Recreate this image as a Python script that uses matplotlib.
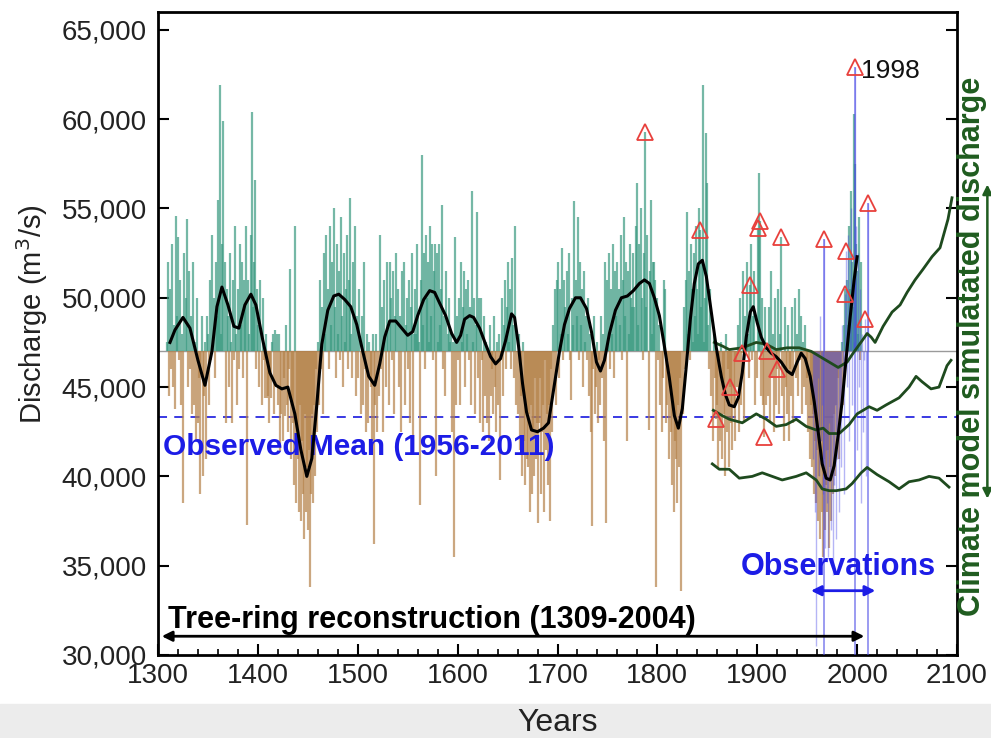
import matplotlib
matplotlib.use('Agg')
import matplotlib.pyplot as plt
import numpy as np
from matplotlib.ticker import FuncFormatter, MultipleLocator
from matplotlib.patches import Rectangle

plt.rcParams['font.family'] = ['Liberation Sans', 'DejaVu Sans']

# Tree-ring reconstruction, annual discharge (thousand m3/s), 1309-2004
recon_start = 1309
recon_k = [
    47.5,
    52.0, 44.5, 50.5, 46.0, 53.0, 45.0, 48.5, 43.8, 54.6, 49.0,  # 1310
    53.4, 46.5, 51.0, 44.0, 48.0, 38.5, 52.5, 47.0, 50.0, 54.4,  # 1320
    45.0, 51.5, 46.0, 49.0, 43.5, 52.0, 44.0, 47.5, 42.0, 50.0,  # 1330
    43.0, 45.5, 39.0, 46.0, 49.0, 40.0, 44.5, 47.5, 41.0, 49.0,  # 1340
    48.0, 44.0, 51.0, 46.5, 53.5, 47.0, 50.0, 45.5, 52.0, 49.0,  # 1350
    55.5, 50.0, 61.9, 48.0, 53.0, 59.9, 47.0, 52.0, 43.0, 50.5,  # 1360
    49.0, 45.0, 52.5, 47.5, 43.0, 51.0, 46.5, 54.0, 48.0, 44.0,  # 1370
    50.5, 46.0, 53.0, 48.5, 52.0, 45.5, 51.0, 49.5, 54.0, 37.3,  # 1380
    51.0, 48.0, 47.0, 53.5, 60.4, 49.5, 52.0, 56.6, 46.0, 50.5,  # 1390
    48.5, 45.0, 51.0, 47.0, 44.0, 50.0, 46.5, 44.4, 48.0, 44.4,  # 1400
    44.5, 43.0, 46.0, 44.4, 47.5, 48.0, 43.5, 48.2, 45.0, 48.0,  # 1410
    44.0, 48.0, 41.4, 43.5, 47.0, 42.0, 45.5, 43.4, 48.5, 44.0,  # 1420
    42.5, 46.0, 51.6, 41.0, 44.0, 43.0, 39.5, 54.0, 38.5, 42.5,  # 1430
    41.0, 38.0, 44.0, 37.5, 42.0, 39.0, 36.5, 43.5, 38.0, 40.5,  # 1440
    37.0, 41.5, 33.8, 39.0, 43.5, 38.5, 44.0, 40.0, 46.0, 42.5,  # 1450
    47.5, 44.0, 51.0, 46.0, 49.5, 43.5, 52.5, 48.0, 53.5, 47.0,  # 1460
    50.5, 46.0, 54.0, 48.5, 52.0, 47.0, 55.0, 49.5, 45.5, 53.0,  # 1470
    48.0, 51.5, 46.5, 54.5, 49.0, 45.0, 52.5, 47.5, 50.5, 53.5,  # 1480
    46.0, 51.0, 55.6, 48.0, 45.5, 52.0, 47.0, 54.0, 44.5, 49.0,  # 1490
    45.5, 50.5, 47.0, 43.5, 49.0, 44.0, 52.0, 46.0, 42.5, 48.0,  # 1500
    43.0, 47.5, 45.5, 45.0, 42.0, 48.0, 36.2, 44.0, 48.0, 42.5,  # 1510
    47.0, 44.5, 53.5, 46.0, 49.5, 42.5, 51.0, 48.0, 45.0, 52.0,  # 1520
    48.5, 44.0, 52.0, 50.0, 46.5, 51.5, 43.5, 49.0, 52.5, 47.0,  # 1530
    50.5, 45.0, 49.0, 42.5, 51.5, 47.0, 52.0, 44.0, 48.5, 50.0,  # 1540
    46.0, 51.0, 43.0, 49.5, 52.5, 41.5, 48.0, 50.5, 48.0, 53.0,  # 1550
    49.0, 47.5, 38.4, 51.0, 58.0, 48.5, 52.5, 46.0, 53.5, 50.0,  # 1560
    52.0, 47.5, 54.0, 49.0, 53.0, 46.5, 51.5, 53.0, 40.0, 52.5,  # 1570
    47.5, 53.0, 48.5, 50.5, 55.2, 46.0, 49.0, 44.5, 51.5, 47.0,  # 1580
    48.0, 50.0, 47.5, 48.0, 42.5, 47.5, 35.5, 53.4, 44.0, 49.0,  # 1590
    46.5, 50.0, 44.0, 52.0, 47.5, 49.5, 51.5, 45.0, 50.5, 48.0,  # 1600
    51.0, 46.5, 49.5, 44.0, 56.0, 47.5, 50.0, 43.5, 48.5, 54.8,  # 1610
    45.5, 50.0, 43.0, 50.0, 46.5, 42.5, 49.0, 44.5, 47.5, 43.0,  # 1620
    47.0, 42.0, 48.5, 44.5, 46.0, 43.5, 49.0, 45.0, 42.5, 47.5,  # 1630
    44.0, 48.0, 39.8, 46.5, 50.0, 44.5, 48.5, 51.0, 46.0, 49.5,  # 1640
    52.0, 47.5, 50.5, 46.0, 52.2, 48.5, 45.5, 54.0, 44.0, 47.0,  # 1650
    43.5, 48.0, 41.5, 44.5, 40.0, 47.5, 42.0, 39.5, 44.0, 41.0,  # 1660
    40.5, 43.5, 38.0, 44.0, 39.0, 42.5, 40.0, 45.5, 41.0, 43.0,  # 1670
    37.4, 43.0, 45.5, 39.0, 42.5, 44.0, 38.0, 46.5, 41.5, 43.5,  # 1680
    39.5, 44.0, 37.5, 46.0, 42.5, 48.5, 45.0, 50.5, 44.0, 51.0,  # 1690
    47.0, 52.0, 45.5, 50.5, 48.0, 52.8, 46.5, 51.0, 49.5, 47.0,  # 1700
    51.5, 48.0, 52.5, 46.5, 44.3, 50.0, 48.5, 55.4, 47.0, 51.0,  # 1710
    49.0, 54.5, 46.5, 52.0, 48.5, 50.5, 45.0, 51.5, 47.5, 49.0,  # 1720
    46.5, 50.0, 44.5, 48.0, 42.5, 37.2, 46.0, 49.0, 43.5, 45.0,  # 1730
    47.5, 43.0, 46.5, 44.0, 49.0, 45.5, 48.0, 42.0, 52.0, 37.4,  # 1740
    51.0, 47.5, 52.5, 46.0, 50.5, 48.0, 53.0, 45.5, 51.5, 49.0,  # 1750
    52.0, 47.0, 50.5, 48.5, 53.5, 46.5, 51.0, 54.5, 49.0, 52.0,  # 1760
    42.0, 51.5, 48.0, 53.0, 50.0, 49.5, 52.5, 49.5, 47.0, 54.0,  # 1770
    56.4, 48.5, 53.0, 47.0, 55.0, 50.0, 46.5, 52.5, 59.3, 49.5,  # 1780
    53.5, 47.0, 42.6, 51.5, 55.5, 48.0, 52.0, 52.0, 51.0, 33.8,  # 1790
    50.0, 46.5, 48.5, 44.0, 47.0, 42.5, 45.5, 51.0, 50.5, 43.0,  # 1800
    44.0, 46.5, 41.0, 45.0, 42.5, 39.5, 44.0, 38.0, 42.0, 41.0,  # 1810
    38.5, 44.0, 40.5, 45.5, 33.6, 47.0, 43.5, 49.5, 46.0, 51.0,  # 1820
    54.8, 48.0, 51.5, 46.5, 53.0, 50.5, 47.5, 52.5, 49.0, 54.0,  # 1830
    50.5, 48.0, 55.0, 53.8, 49.5, 52.0, 61.9, 47.5, 50.0, 59.2,  # 1840
    56.4, 48.5, 46.0, 50.5, 44.5, 47.0, 42.0, 48.0, 45.5, 43.2,  # 1850
    44.0, 40.5, 46.5, 42.0, 47.5, 41.0, 45.0, 43.5, 40.0, 48.0,  # 1860
    42.5, 46.0, 40.5, 45.0, 43.0, 41.5, 47.0, 44.0, 42.0, 46.5,  # 1870
    45.0, 48.5, 42.5, 50.0, 44.0, 46.9, 51.5, 43.0, 49.0, 47.5,  # 1880
    52.0, 48.0, 45.5, 50.7, 53.0, 46.5, 49.0, 51.5, 44.0, 47.0,  # 1890
    45.5, 53.9, 57.0, 54.3, 44.5, 50.0, 44.0, 42.2, 49.5, 44.0,  # 1900
    47.0, 44.5, 49.5, 43.0, 51.5, 45.5, 48.0, 42.5, 50.0, 44.0,  # 1910
    46.0, 50.5, 43.5, 48.0, 53.4, 44.5, 47.0, 42.0, 49.5, 45.0,  # 1920
    43.5, 48.5, 42.0, 46.0, 44.5, 49.5, 43.0, 47.0, 50.0, 45.5,  # 1930
    48.0, 44.5, 50.5, 46.5, 49.0, 43.5, 47.5, 45.0, 48.5, 44.0,  # 1940
    45.5, 42.5, 47.0, 41.0, 44.0, 40.5, 43.5, 39.0, 42.0, 38.5,  # 1950
    41.5, 37.5, 40.0, 36.5, 42.0, 38.0, 35.5, 41.0, 37.0, 39.5,  # 1960
    38.0, 41.5, 36.0, 40.5, 37.5, 42.5, 39.0, 43.5, 40.0, 44.0,  # 1970
    42.5, 45.5, 41.0, 46.0, 43.5, 47.5, 44.0, 48.5, 50.5, 46.5,  # 1980
    51.0, 48.5, 54.0, 50.5, 56.0, 52.0, 49.5, 60.3, 57.5, 53.0,  # 1990
    51.5, 48.0, 54.5, 46.5, 52.0,                                # 2000
]

# Gauge observations (thousand m3/s), 1956-2011
obs_start = 1956
obs_k = [
    41.0, 44.5, 38.0, 30.5, 43.0, 45.5, 40.0, 49.0, 42.0, 44.0,
    39.0, 53.3, 36.0, 41.5, 38.5, 35.5, 43.0, 40.0, 37.0, 42.5,
    34.5, 39.5, 44.0, 36.5, 41.0, 46.0, 38.0, 43.5, 40.5, 48.5,
    44.5, 39.0, 50.2, 52.6, 45.0, 53.5, 42.0, 49.5, 55.0, 44.0,
    51.0, 47.5, 62.9, 54.0, 41.5, 52.5, 45.0, 50.5, 38.5, 48.0,
    42.5, 46.5, 48.8, 40.0, 44.0, 55.3,
]
stem_years = [1967, 1998, 2011]

# Smoothed reconstruction (thousand m3/s)
smooth_years = [1312, 1317, 1325, 1332, 1340, 1347, 1354, 1359, 1364, 1370,
                1376, 1381, 1387, 1393, 1398, 1405, 1412, 1418, 1424, 1430,
                1437, 1443, 1449, 1454, 1459, 1464, 1470, 1476, 1481, 1487,
                1493, 1499, 1505, 1511, 1517, 1522, 1527, 1532, 1538, 1544,
                1550, 1555, 1560, 1566, 1572, 1577, 1582, 1588, 1594, 1599,
                1603, 1607, 1612, 1616, 1622, 1628, 1633, 1638, 1643, 1648,
                1654, 1657, 1661, 1665, 1669, 1674, 1680, 1686, 1691, 1696,
                1702, 1707, 1712, 1718, 1723, 1729, 1734, 1739, 1743, 1747,
                1752, 1758, 1764, 1770, 1776, 1782, 1787, 1792, 1797, 1802,
                1807, 1812, 1817, 1821, 1825, 1829, 1833, 1837, 1841, 1845,
                1849, 1854, 1859, 1864, 1868, 1872, 1877, 1881, 1885, 1889,
                1893, 1896, 1900, 1904, 1909, 1914, 1919, 1924, 1930, 1935,
                1940, 1944, 1948, 1953, 1957, 1961, 1965, 1969, 1973, 1977,
                1981, 1985, 1989, 1993, 1997, 2000]
smooth_k = [47.5, 48.2, 48.9, 48.3, 46.5, 45.1, 47.0, 49.5, 50.6, 49.6,
            48.4, 48.3, 49.6, 50.2, 49.6, 47.6, 45.8, 45.1, 44.9, 45.0,
            43.5, 41.5, 40.0, 41.0, 44.0, 47.4, 49.3, 50.1, 50.2, 49.9,
            49.5, 48.5, 47.0, 45.6, 45.1, 46.3, 47.8, 48.7, 48.7, 48.3,
            47.9, 48.1, 49.0, 49.9, 50.4, 50.3, 49.7, 49.0, 48.0, 47.5,
            47.9, 48.8, 49.0, 48.9, 48.3, 47.4, 46.7, 46.3, 46.6, 47.6,
            49.1, 48.9, 47.3, 45.2, 43.6, 42.6, 42.5, 42.7, 43.0, 44.8,
            47.0, 48.5, 49.4, 50.0, 50.0, 49.4, 48.1, 46.4, 45.9, 46.5,
            48.0, 49.3, 50.0, 50.1, 50.4, 50.8, 51.0, 50.8, 50.0, 49.0,
            47.3, 45.5, 43.4, 42.7, 43.8, 46.2, 48.8, 50.8, 51.9, 52.1,
            51.2, 49.2, 47.2, 45.6, 44.6, 44.0, 43.9, 44.4, 45.8, 47.8,
            49.2, 49.5, 48.6, 47.8, 47.2, 46.9, 46.7, 46.4, 45.9, 45.7,
            46.4, 46.9, 46.6, 45.6, 44.2, 42.5, 40.7, 39.9, 39.8, 40.6,
            42.3, 44.2, 46.6, 48.9, 51.0, 52.3]

# Climate model simulated discharge (thousand m3/s)
model_hi_years = [1857, 1865, 1872, 1885, 1899, 1909, 1919, 1930, 1942, 1954,
                  1963, 1972, 1981, 1990, 1996, 2005, 2010, 2014, 2018, 2026,
                  2035, 2043, 2050, 2058, 2066, 2075, 2083, 2091, 2095]
model_hi_k = [47.5, 47.3, 47.1, 47.2, 47.5, 47.4, 47.1, 47.2, 47.2, 47.0,
              46.7, 46.4, 46.1, 46.4, 46.9, 47.6, 48.0, 47.8, 47.5, 48.4,
              49.2, 49.6, 50.3, 51.0, 51.6, 52.3, 52.8, 54.4, 55.6]
model_mid_years = [1856, 1865, 1872, 1885, 1899, 1909, 1919, 1929, 1939, 1949,
                   1959, 1966, 1972, 1982, 1992, 2000, 2012, 2020, 2029, 2042,
                   2052, 2059, 2065, 2074, 2082, 2090, 2094]
model_mid_k = [43.7, 43.4, 43.2, 43.0, 43.5, 43.2, 42.8, 42.9, 43.2, 42.8,
               42.6, 42.7, 42.4, 42.4, 42.9, 43.5, 43.9, 43.7, 44.0, 44.4,
               45.0, 45.6, 45.3, 44.9, 45.0, 46.2, 46.5]
model_lo_years = [1855, 1862, 1872, 1882, 1895, 1905, 1915, 1925, 1939, 1949,
                  1959, 1965, 1972, 1979, 1989, 1995, 2004, 2010, 2020, 2032,
                  2042, 2052, 2062, 2072, 2082, 2092]
model_lo_k = [40.7, 40.4, 40.4, 39.9, 40.0, 40.2, 40.0, 39.8, 40.0, 40.2,
              39.8, 39.3, 39.2, 39.2, 39.3, 39.6, 40.2, 40.5, 40.1, 39.7,
              39.3, 39.7, 39.8, 40.0, 39.9, 39.4]

# Flood years marked with triangles
flood_years = [1788, 1843, 1859, 1873, 1885, 1893, 1901, 1903, 1907, 1910,
               1920, 1924, 1967, 1988, 1989, 1998, 2008, 2011]
flood_k = [59.3, 53.8, 43.2, 45.0, 46.9, 50.7, 53.9, 54.3, 42.2, 47.0,
           46.0, 53.4, 53.3, 50.2, 52.6, 62.9, 48.8, 55.3]

base = 47000
obs_mean = 43340

recon = np.array(recon_k) * 1000
recon_years = np.arange(recon_start, recon_start + len(recon))
obs = np.array(obs_k) * 1000
obs_years = np.arange(obs_start, obs_start + len(obs))

fig = plt.figure(figsize=(9.91, 7.38), dpi=100)
fig.patches.append(Rectangle((0, 0), 1, 34 / 738, transform=fig.transFigure,
                             color='#ececec', zorder=-1))
ax = fig.add_axes([158 / 991, 1 - 655 / 738, 799 / 991, 643 / 738])

# reference lines
ax.axhline(base, color='#9a9a9a', lw=1, zorder=1)
ax.axhline(obs_mean, color='#2a2ae0', lw=1.3, dashes=(5, 4), zorder=1)

# reconstruction bars
up = recon >= base
ax.vlines(recon_years[up], base, recon[up], colors='#3a9a80', lw=1.6, alpha=0.7, zorder=2)
ax.vlines(recon_years[~up], recon[~up], base, colors='#b5824a', lw=1.6, alpha=0.7, zorder=2)

# observations
ax.vlines(obs_years, base, obs, colors='#4646e6', lw=1.0, alpha=0.4, zorder=3)
stem_top = [obs[obs_years == y][0] for y in stem_years]
ax.vlines(stem_years, 30000, stem_top, colors='#4a4ae6', lw=1.1, alpha=0.7, zorder=3)

# smoothed reconstruction
ax.plot(smooth_years, np.array(smooth_k) * 1000, color='black', lw=2.2,
        solid_joinstyle='round', zorder=5)

# climate model runs
for yrs, vals in [(model_hi_years, model_hi_k), (model_mid_years, model_mid_k),
                  (model_lo_years, model_lo_k)]:
    ax.plot(yrs, np.array(vals) * 1000, color='#1e4a1e', lw=2, zorder=4)

# flood triangles
ax.plot(flood_years, np.array(flood_k) * 1000, ls='none', marker='^', ms=11,
        mfc='none', mec='#e8403c', mew=1.3, zorder=6)
ax.text(2004, 62700, '1998', fontsize=19, va='center', ha='left', color='#111111')

# annotations
ax.text(1305, 41650, 'Observed Mean (1956-2011)', color='#1c1ce6', fontsize=21.5,
        fontweight='bold', va='center', ha='left')
ax.text(1310, 31950, 'Tree-ring reconstruction (1309-2004)', color='black',
        fontsize=22, fontweight='bold', va='center', ha='left')
ax.annotate('', xy=(1301, 31050), xytext=(2010, 31050),
            arrowprops=dict(arrowstyle='<|-|>', color='black', lw=2, mutation_scale=15))
ax.text(1981, 34950, 'Observations', color='#1c1ce6', fontsize=22,
        fontweight='bold', va='center', ha='center')
ax.annotate('', xy=(1951, 33600), xytext=(2021, 33600),
            arrowprops=dict(arrowstyle='<|-|>', color='#1c1ce6', lw=2, mutation_scale=15))

trans = ax.get_yaxis_transform()
ax.text(1.019, 47300, 'Climate model simulatated discharge', transform=trans,
        rotation=90, color='#1f5c1f', fontsize=22, fontweight='bold',
        va='center', ha='center', clip_on=False)
ax.annotate('', xy=(1.038, 56500), xytext=(1.038, 38600), xycoords=trans,
            textcoords=trans, annotation_clip=False,
            arrowprops=dict(arrowstyle='<|-|>', color='#1f5c1f', lw=1.8, mutation_scale=14))

# axes
ax.set_xlim(1300, 2100)
ax.set_ylim(30000, 66000)
ax.set_yticks(range(30000, 65001, 5000))
ax.yaxis.set_major_formatter(FuncFormatter(lambda v, p: f'{int(v):,}'))
ax.xaxis.set_major_locator(MultipleLocator(100))
ax.xaxis.set_minor_locator(MultipleLocator(20))
ax.tick_params(axis='both', which='both', direction='in', right=True, colors='black',
               labelcolor='#222222')
ax.tick_params(axis='y', which='major', length=8, width=1.5, labelsize=20, pad=8)
ax.tick_params(axis='x', which='major', length=8, width=1.5, labelsize=20, pad=6)
ax.tick_params(axis='x', which='minor', length=4, width=1.2)
for s in ax.spines.values():
    s.set_linewidth(2)

ax.set_ylabel('Discharge (m$^3$/s)', fontsize=21, color='#222222')
ax.yaxis.set_label_coords(-0.135, 0.53)
ax.set_xlabel('Years', fontsize=23, color='#222222')
ax.xaxis.set_label_coords(0.5, -0.083)

fig.savefig('out.png', dpi=100)
